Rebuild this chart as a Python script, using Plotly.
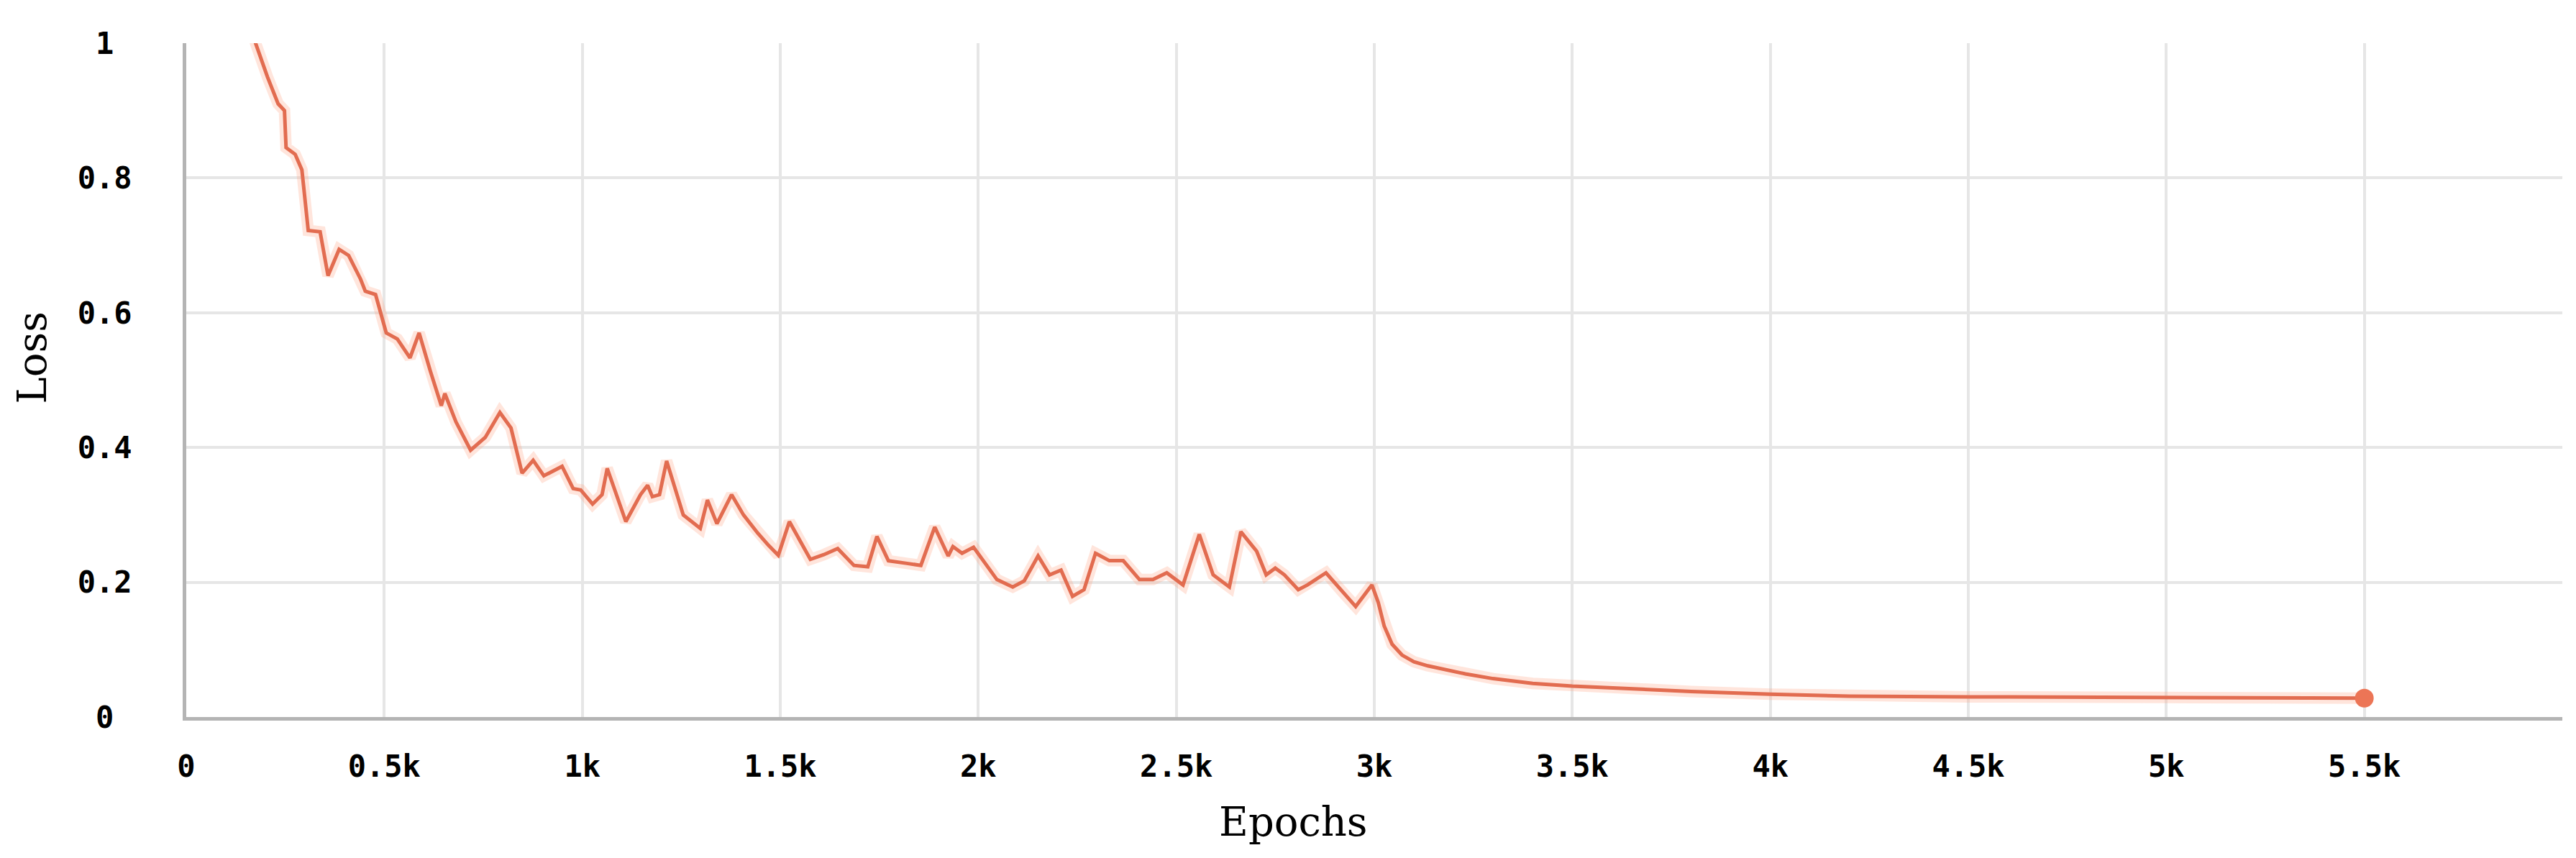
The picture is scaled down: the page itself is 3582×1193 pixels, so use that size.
import plotly.graph_objects as go

# ---- data ----
epochs = [160, 175, 205, 232, 248, 252, 275, 292, 308, 338, 358, 386, 410, 440, 452, 478,
          505, 533, 565, 588, 616, 644, 653, 681, 718, 755, 792, 820, 848, 876, 903,
          949, 977, 996, 1026, 1050, 1063, 1110, 1147, 1165, 1177, 1195, 1213, 1255,
          1298, 1316, 1340, 1377, 1407, 1443, 1470, 1495, 1523, 1576, 1610, 1645, 1686,
          1721, 1744, 1773, 1820, 1855, 1890, 1924, 1936, 1959, 1988, 2012, 2047, 2087,
          2116, 2151, 2180, 2209, 2238, 2267, 2296, 2331, 2366, 2407, 2441, 2476, 2517,
          2558, 2593, 2634, 2663, 2703, 2727, 2750, 2773, 2808, 2831, 2878, 2919, 2953,
          2994, 3010, 3025, 3045, 3070, 3100, 3135, 3175, 3230, 3300, 3400, 3500, 3650,
          3800, 4000, 4200, 4500, 5000, 5500]
loss = [1.04, 1.00, 0.95, 0.91, 0.90, 0.845, 0.835, 0.812, 0.722, 0.72, 0.655, 0.694, 0.685,
        0.65, 0.632, 0.627, 0.57, 0.561, 0.533, 0.57, 0.514, 0.462, 0.48, 0.438, 0.396,
        0.415, 0.452, 0.429, 0.362, 0.381, 0.358, 0.372, 0.339, 0.337, 0.316, 0.33,
        0.369, 0.29, 0.33, 0.344, 0.327, 0.33, 0.38, 0.30, 0.28, 0.322, 0.287, 0.33,
        0.30, 0.273, 0.255, 0.24, 0.29, 0.234, 0.241, 0.25, 0.225, 0.223, 0.268, 0.232,
        0.228, 0.225, 0.282, 0.239, 0.253, 0.243, 0.252, 0.232, 0.204, 0.193, 0.202,
        0.239, 0.211, 0.218, 0.179, 0.189, 0.243, 0.232, 0.232, 0.204, 0.204, 0.214,
        0.196, 0.271, 0.211, 0.193, 0.275, 0.246, 0.211, 0.221, 0.211, 0.189, 0.196,
        0.214, 0.186, 0.164, 0.196, 0.17, 0.135, 0.108, 0.092, 0.082, 0.076, 0.071,
        0.064, 0.057, 0.050, 0.046, 0.042, 0.038, 0.034, 0.031, 0.030, 0.029, 0.028]

x_tick_vals = [0, 500, 1000, 1500, 2000, 2500, 3000, 3500, 4000, 4500, 5000, 5500, 6000]
x_tick_text = ["0", "0.5k", "1k", "1.5k", "2k", "2.5k", "3k", "3.5k", "4k", "4.5k", "5k", "5.5k", ""]
y_tick_vals = [0, 0.2, 0.4, 0.6, 0.8, 1.0]
y_tick_text = ["0\u00a0", "0.2", "0.4", "0.6", "0.8", "1\u00a0"]

LINE = "#e26c50"
GRID = "#e6e6e6"
AXIS = "#b4b4b4"

fig = go.Figure()
# soft halo (same series, drawn wide and light)
fig.add_trace(go.Scatter(x=epochs, y=loss, mode="lines",
                         line=dict(color="rgba(255,170,140,0.30)", width=16),
                         hoverinfo="skip", showlegend=False))
fig.add_trace(go.Scatter(x=epochs, y=loss, mode="lines",
                         line=dict(color=LINE, width=5), showlegend=False))
fig.add_trace(go.Scatter(x=[epochs[-1]], y=[loss[-1]], mode="markers",
                         marker=dict(color="#ec7556", size=26), showlegend=False))

tick_font = dict(family="DejaVu Sans Mono", size=42, color="#000000", weight="bold")
title_font = dict(family="DejaVu Serif", size=56, color="#000000")

fig.update_layout(
    width=3582, height=1193,
    margin=dict(l=251, r=27, t=52, b=204),
    paper_bgcolor="white", plot_bgcolor="white",
    xaxis=dict(range=[0, 6000], tickvals=x_tick_vals, ticktext=x_tick_text,
               showgrid=True, gridcolor=GRID, gridwidth=4, zeroline=False,
               showline=True, linecolor=AXIS, linewidth=5, ticks="",
               ticklabelstandoff=28, tickfont=tick_font),
    yaxis=dict(range=[0, 1], tickvals=y_tick_vals, ticktext=y_tick_text,
               showgrid=True, gridcolor=GRID, gridwidth=4, zeroline=False,
               showline=True, linecolor=AXIS, linewidth=5, ticks="",
               ticklabelstandoff=62, tickfont=tick_font),
    annotations=[
        dict(text="Epochs", xref="paper", yref="paper", x=0.466, y=-0.155,
             xanchor="center", yanchor="middle", showarrow=False, font=title_font),
        dict(text="Loss", xref="paper", yref="paper", x=-0.0648, y=0.533,
             xanchor="center", yanchor="middle", textangle=-90, showarrow=False,
             font=title_font),
    ],
)

fig.write_html("out.html")
